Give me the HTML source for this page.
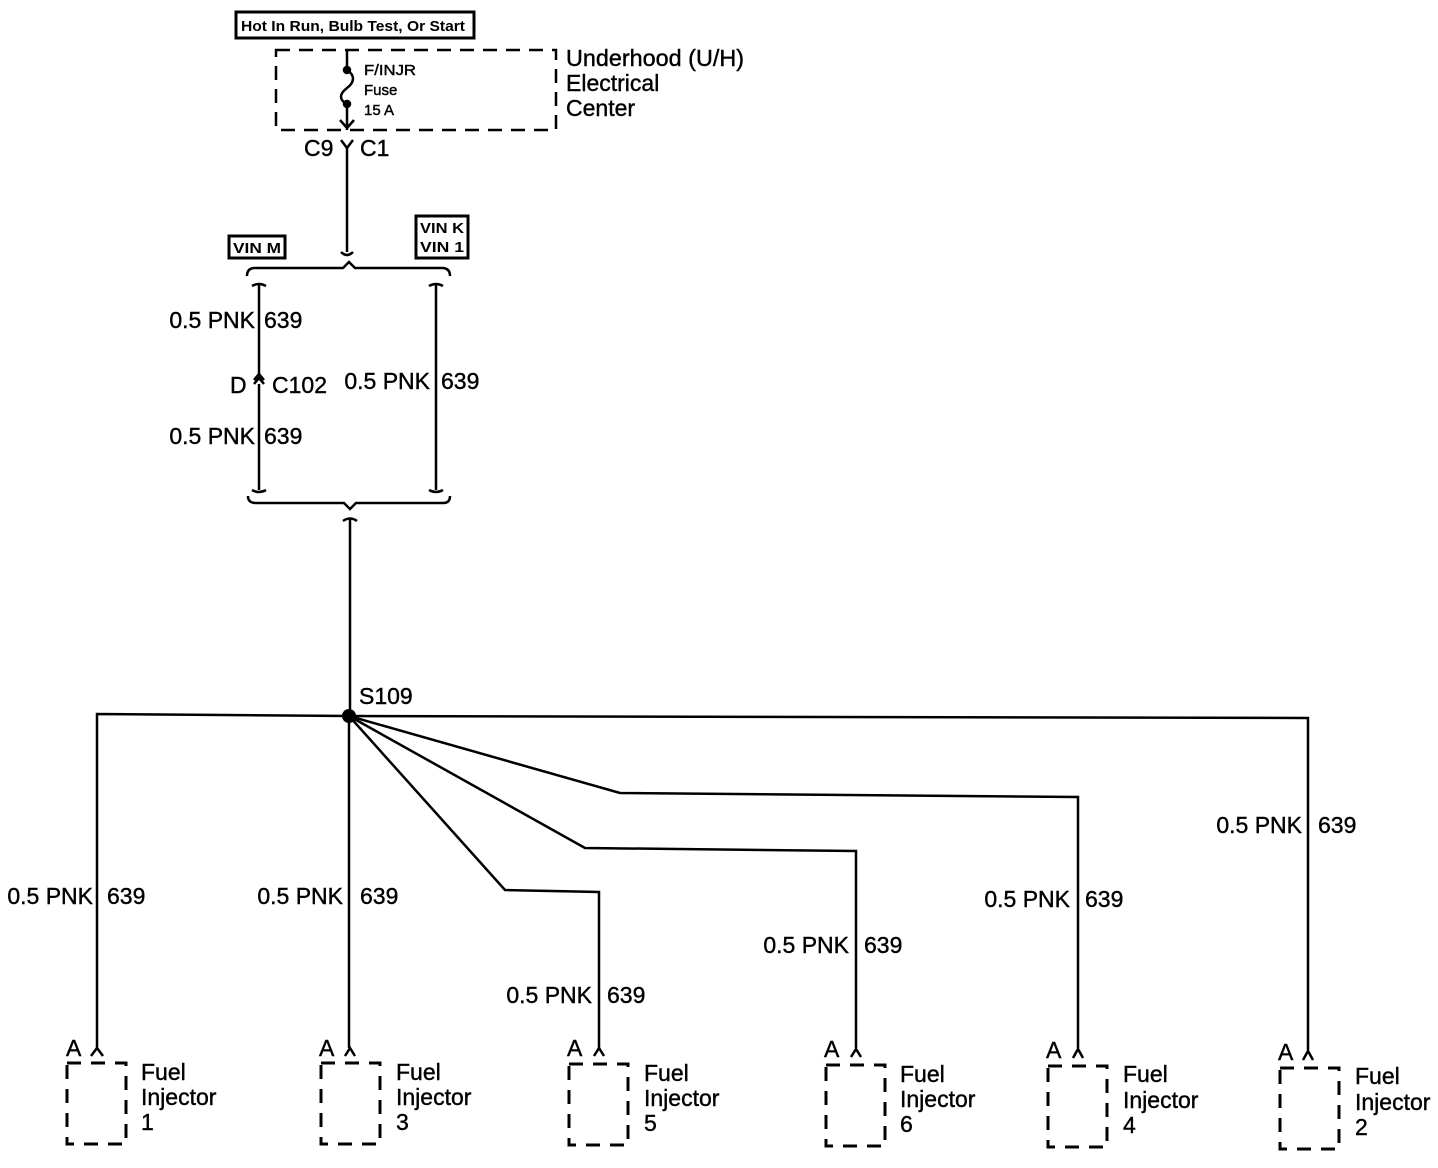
<!DOCTYPE html>
<html><head><style>body{margin:0;background:#fff}svg{display:block}text{font-family:"Liberation Sans",sans-serif;fill:#000;stroke:#000;stroke-width:0.4}</style></head><body>
<svg width="1438" height="1168" viewBox="0 0 1438 1168" xmlns="http://www.w3.org/2000/svg">
<g stroke="#000" stroke-width="2.5" fill="none">
<rect x="236" y="12" width="238" height="26" stroke-width="3"/>
<rect x="276" y="50" width="280" height="80" stroke-dasharray="14,9"/>
<path d="M347 50 V68 M347 70 C355 75 355 82 347 88 C339 94 339 100 347 104 V130 M340 120 L347 128 L354 120"/>
<circle cx="347" cy="70" r="3" fill="#000"/><circle cx="347" cy="104" r="3" fill="#000"/>
<path d="M341 140 L347 148 L353 140 M347 148 V252 M341 252 Q347 258 353 252"/>
<rect x="229" y="236" width="56" height="22" stroke-width="3"/>
<rect x="416" y="216" width="52" height="42" stroke-width="3"/>
<path d="M247 276 Q247 268 255 268 H343 L349 262 L355 268 H442 Q450 268 450 276"/>
<path d="M252 286 Q259 282 266 286 M259 284 V375 M254 384 L259 378 L264 384 M254 380 L259 374 L264 380 M259 384 V490 M252 490 Q259 494 266 490"/>
<path d="M429 286 Q436 282 443 286 M436 284 V490 M429 490 Q436 494 443 490"/>
<path d="M248 496 Q248 503 256 503 H344 L350 509 L356 503 H443 Q450 503 450 496"/>
<path d="M343 521 Q350 516 357 521 M350 519 V716"/>
<path d="M349 716 L97 714 V1048"/>
<path d="M349 716 V1048"/>
<path d="M349 716 L505 890 L599 892 V1048"/>
<path d="M349 716 L585 848 L856 851 V1048"/>
<path d="M349 716 L620 793 L1078 797 V1048"/>
<path d="M349 716 L1308 718 V1050"/>
<g stroke-dasharray="14,10" stroke-width="3">
<rect x="67" y="1063" width="59" height="81"/>
<rect x="321" y="1063" width="59" height="81"/>
<rect x="569" y="1064" width="59" height="81"/>
<rect x="826" y="1065" width="59" height="81"/>
<rect x="1048" y="1066" width="59" height="81"/>
<rect x="1280" y="1068" width="59" height="81"/>
</g>
<path d="M91 1056 L97 1048 L103 1056 M345 1056 L350 1048 L355 1056 M594 1056 L599 1048 L604 1056 M851 1057 L856 1049 L861 1057 M1073 1058 L1078 1049 L1083 1058 M1303 1060 L1308 1051 L1313 1060"/>
</g>
<circle cx="349" cy="716" r="7" fill="#000"/>
<text x="241" y="31" font-size="15" font-weight="bold" textLength="224" lengthAdjust="spacingAndGlyphs" style="stroke-width:0">Hot In Run, Bulb Test, Or Start</text>
<text x="364" y="75" font-size="15" textLength="52" lengthAdjust="spacingAndGlyphs">F/INJR</text>
<text x="364" y="95" font-size="15">Fuse</text>
<text x="364" y="115" font-size="15">15 A</text>
<g font-size="23"><text x="566" y="66" textLength="178" lengthAdjust="spacingAndGlyphs">Underhood (U/H)</text><text x="566" y="91">Electrical</text><text x="566" y="116">Center</text></g>
<g font-size="23"><text x="304" y="156">C9</text><text x="360" y="156">C1</text></g>
<text x="233" y="253" font-size="15" font-weight="bold" textLength="48" lengthAdjust="spacingAndGlyphs" style="stroke-width:0">VIN M</text>
<text x="420" y="233" font-size="15" font-weight="bold" textLength="44" lengthAdjust="spacingAndGlyphs" style="stroke-width:0">VIN K</text>
<text x="420" y="252" font-size="15" font-weight="bold" textLength="44" lengthAdjust="spacingAndGlyphs" style="stroke-width:0">VIN 1</text>
<g font-size="23">
<text x="255" y="328" text-anchor="end">0.5 PNK</text><text x="264" y="328">639</text>
<text x="230" y="393">D</text><text x="272" y="393">C102</text>
<text x="255" y="444" text-anchor="end">0.5 PNK</text><text x="264" y="444">639</text>
<text x="430" y="389" text-anchor="end">0.5 PNK</text><text x="441" y="389">639</text>
<text x="359" y="704">S109</text>
<text x="93" y="904" text-anchor="end">0.5 PNK</text><text x="107" y="904">639</text>
<text x="343" y="904" text-anchor="end">0.5 PNK</text><text x="360" y="904">639</text>
<text x="592" y="1003" text-anchor="end">0.5 PNK</text><text x="607" y="1003">639</text>
<text x="849" y="953" text-anchor="end">0.5 PNK</text><text x="864" y="953">639</text>
<text x="1070" y="907" text-anchor="end">0.5 PNK</text><text x="1085" y="907">639</text>
<text x="1302" y="833" text-anchor="end">0.5 PNK</text><text x="1318" y="833">639</text>
<text x="66" y="1056">A</text><text x="319" y="1056">A</text><text x="567" y="1056">A</text><text x="824" y="1057">A</text><text x="1046" y="1058">A</text><text x="1278" y="1060">A</text>
<text x="141" y="1080">Fuel</text><text x="141" y="1105">Injector</text><text x="141" y="1130">1</text>
<text x="396" y="1080">Fuel</text><text x="396" y="1105">Injector</text><text x="396" y="1130">3</text>
<text x="644" y="1081">Fuel</text><text x="644" y="1106">Injector</text><text x="644" y="1131">5</text>
<text x="900" y="1082">Fuel</text><text x="900" y="1107">Injector</text><text x="900" y="1132">6</text>
<text x="1123" y="1082">Fuel</text><text x="1123" y="1108">Injector</text><text x="1123" y="1133">4</text>
<text x="1355" y="1084">Fuel</text><text x="1355" y="1110">Injector</text><text x="1355" y="1135">2</text>
</g>
</svg>
</body></html>
